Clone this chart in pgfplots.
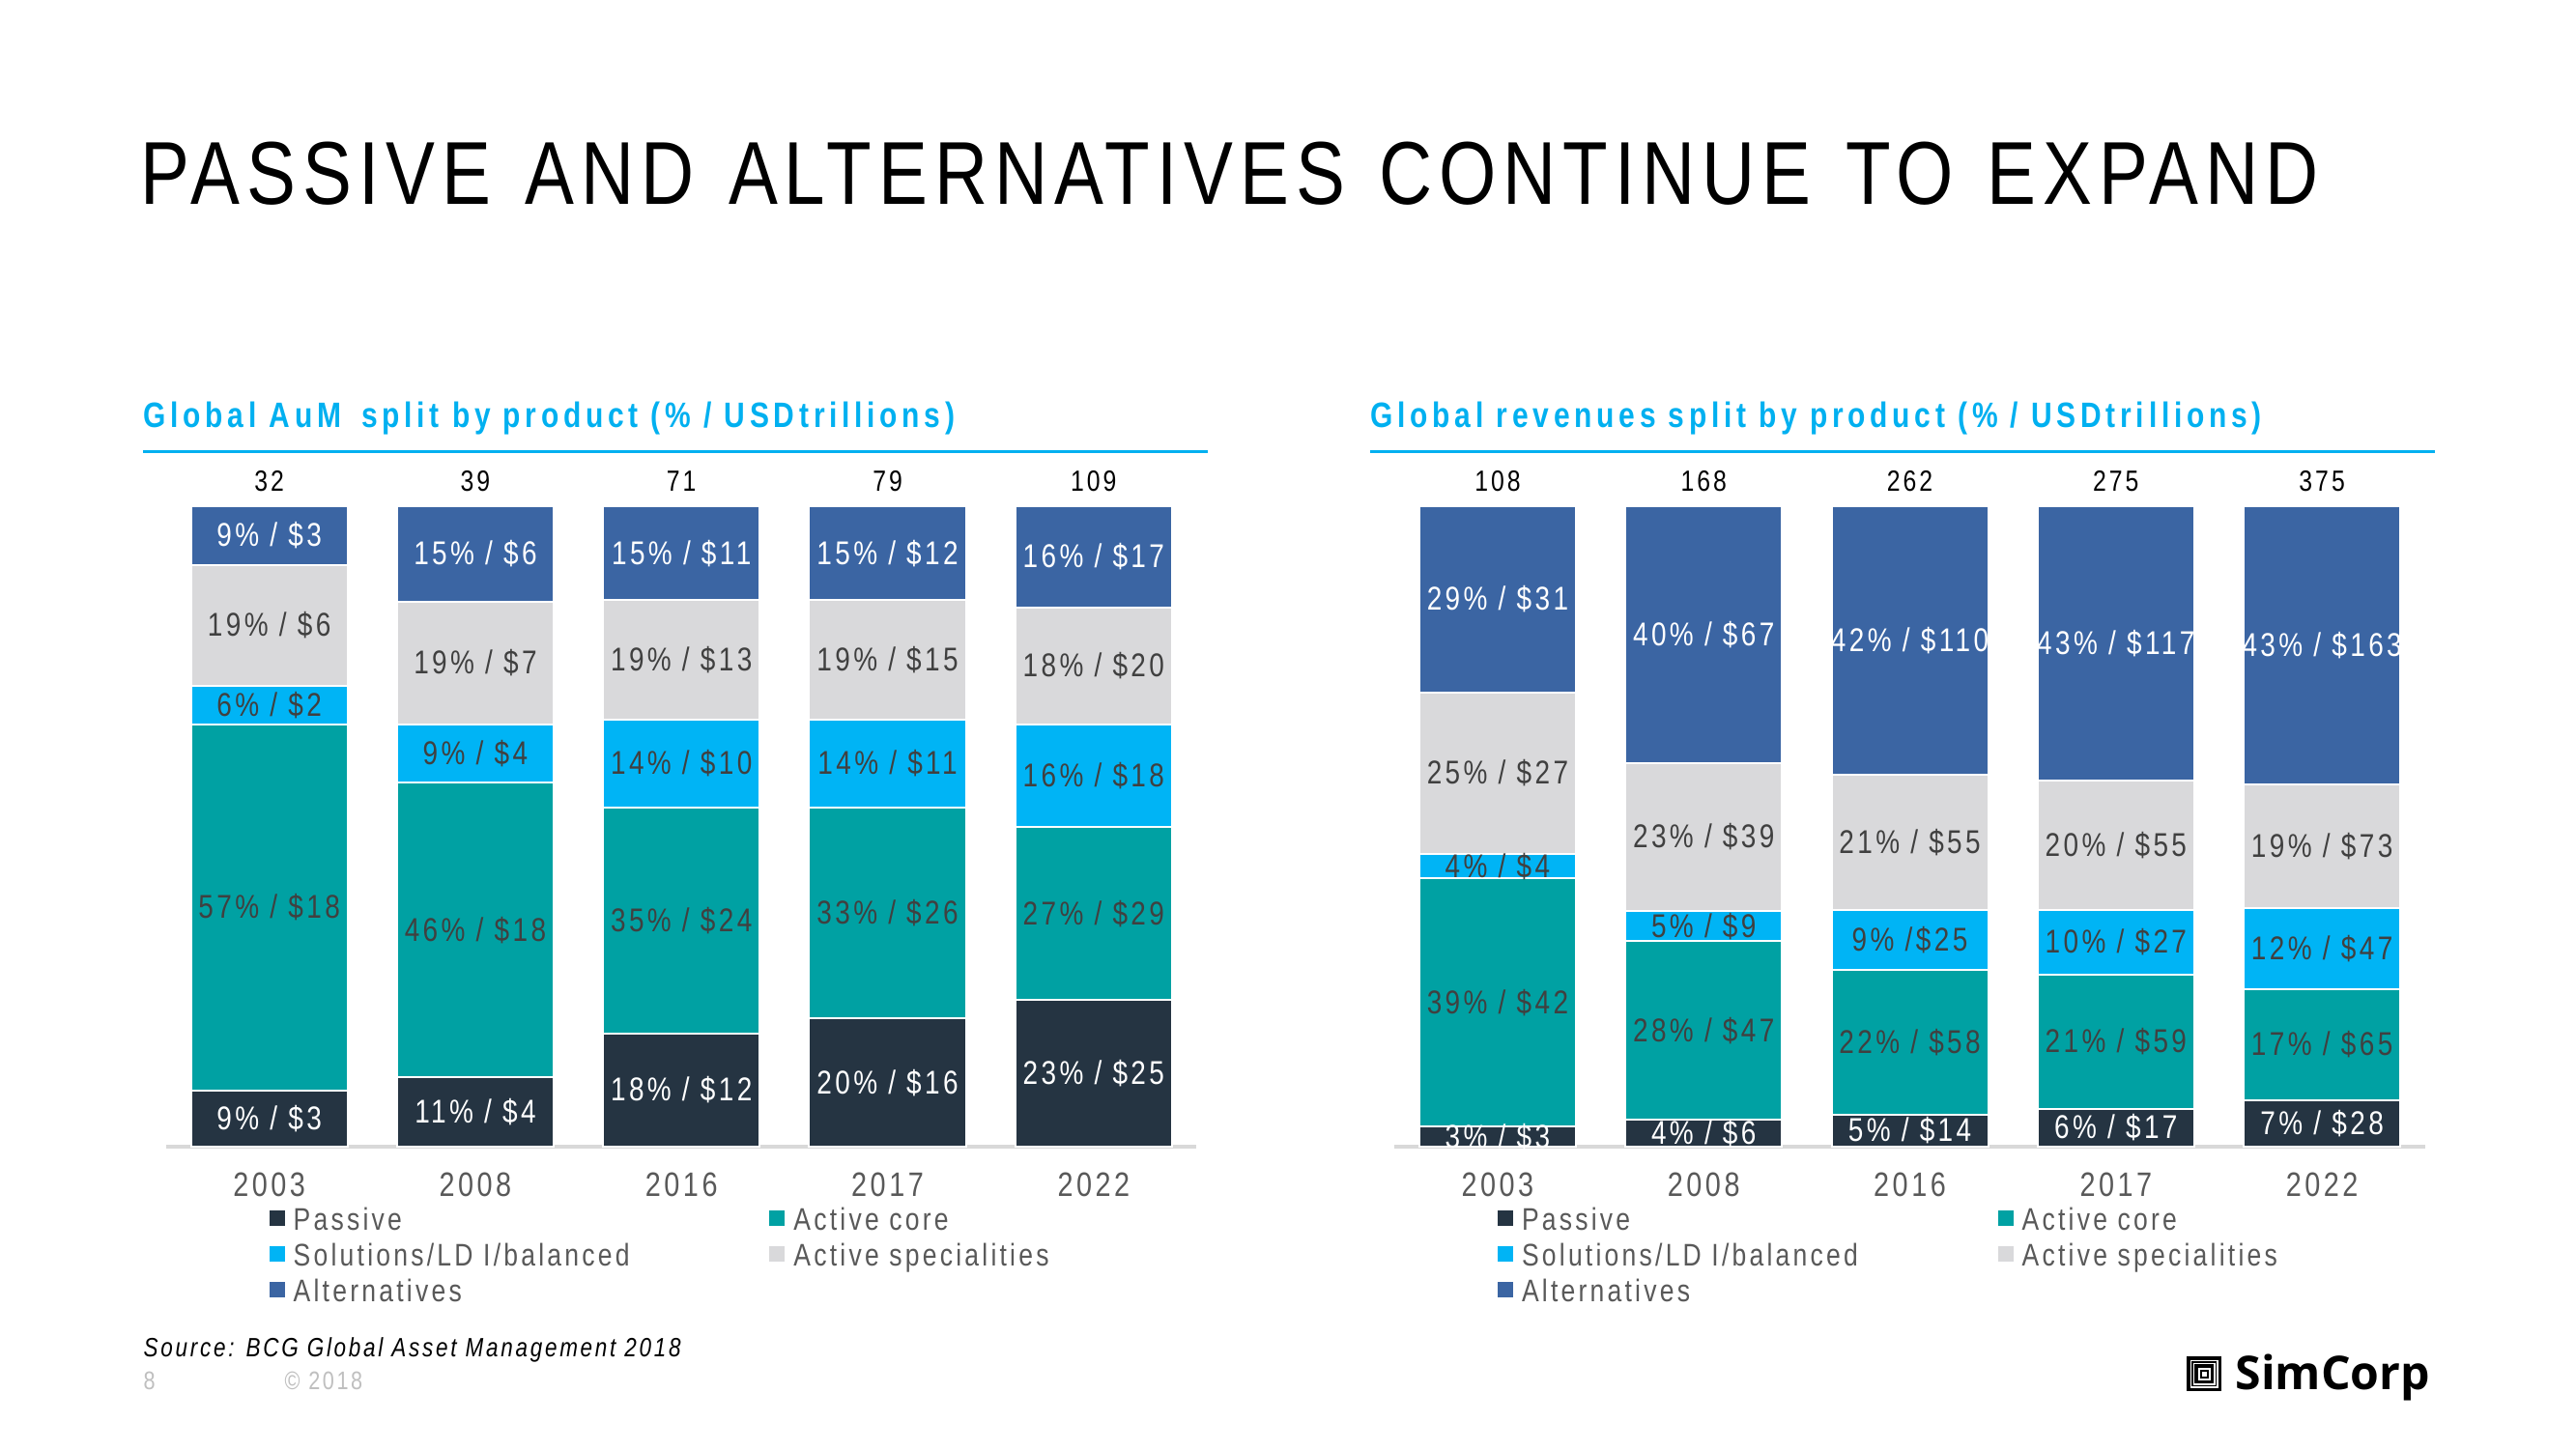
\documentclass[border=0pt]{standalone}
\usepackage{fontspec}
\usepackage{pgfplots}
\pgfplotsset{compat=1.18}
\setmainfont{Liberation Sans}[FakeStretch=0.82, LetterSpace=10]
\newfontfamily\titlefont{Liberation Sans}[FakeStretch=0.825, LetterSpace=7.6, WordSpace=1.25]
\newfontfamily\subfont{Liberation Sans}[FakeStretch=0.82, LetterSpace=13]
\newfontfamily\logofont{Open Sans}

\definecolor{cPas}{RGB}{37,52,66}
\definecolor{cCor}{RGB}{0,161,163}
\definecolor{cSol}{RGB}{0,180,245}
\definecolor{cSpe}{RGB}{217,217,219}
\definecolor{cAlt}{RGB}{59,101,163}
\definecolor{cSub}{RGB}{0,176,240}
\definecolor{cLbl}{RGB}{64,64,64}
\definecolor{cTick}{RGB}{89,89,89}
\definecolor{cBase}{RGB}{217,217,217}
\definecolor{cFoot}{RGB}{191,191,191}

\newcommand{\lblsize}{\fontsize{9.7pt}{11pt}\selectfont}
\newcommand{\totsize}{\fontsize{8.6pt}{10pt}\selectfont}
\newcommand{\yrsize}{\fontsize{10pt}{12pt}\selectfont}
\newcommand{\legsize}{\fontsize{9.2pt}{11pt}\selectfont}

\pgfplotsset{
  stackchart/.style={
    ybar stacked,
    scale only axis,
    width=106.65mm, height=66.3mm,
    bar width=0.76,
    xmin=-0.5, xmax=4.5, ymin=0, ymax=100,
    enlargelimits=false,
    axis x line*=bottom,
    axis y line=none,
    x axis line style={-, draw=cBase, line width=0.34mm},
    xtick={0,1,2,3,4},
    xticklabels={2003,2008,2016,2017,2022},
    major tick length=0pt,
    xticklabel style={font=\yrsize, text=cTick, anchor=north, inner sep=0pt, yshift=-2.6mm},
    clip=false,
    legend columns=2,
    legend cell align=left,
    legend style={draw=none, fill=none, at={(0.0994,-0.0912)}, anchor=north west,
      inner sep=0pt, font=\legsize, text=cTick,
      nodes={inner sep=0pt, text height=2.5mm, text depth=1.2mm},
      /tikz/every odd column/.append style={column sep=0.9mm},
      /tikz/every even column/.append style={column sep=0pt}},
    legend image code/.code={\fill[##1, draw=none] (0mm,-0.2mm) rectangle (1.6mm,1.4mm);},
    point meta=explicit symbolic,
    nodes near coords,
    every node near coord/.style={anchor=center, inner sep=0pt, font=\lblsize, text=cLbl},
  },
  totaxis/.style={
    scale only axis,
    width=106.65mm, height=66.3mm,
    xmin=-0.5, xmax=4.5, ymin=0, ymax=100,
    hide axis, clip=false,
  },
  seg/.style={fill=#1, draw=white, line width=0.2mm},
  whitelbl/.style={every node near coord/.append style={text=white}},
  totals/.style={draw=none, mark=none, nodes near coords, point meta=explicit symbolic,
     every node near coord/.style={anchor=south, inner sep=0pt, font=\totsize, text=black, yshift=1.45mm}},
}

\begin{document}
\begin{tikzpicture}
\fill[white] (0,0) rectangle (266.6mm,150mm);
\useasboundingbox (0,0) rectangle (266.6mm,150mm);

% title
\node[anchor=base west, inner sep=0pt] at (14.5mm,128.8mm)
  {\titlefont\fontsize{26.3pt}{30pt}\selectfont PASSIVE AND ALTERNATIVES CONTINUE TO EXPAND};

% subtitles
\node[anchor=base west, inner sep=0pt, text=cSub] at (14.8mm,105.7mm)
  {\subfont\bfseries\fontsize{10.4pt}{12pt}\selectfont Global AuM\hspace{0.8mm} split by product (\% / USDtrillions)};
\draw[cSub, line width=0.25mm] (14.8mm,103.25mm) -- (124.95mm,103.25mm);
\node[anchor=base west, inner sep=0pt, text=cSub] at (141.8mm,105.7mm)
  {\subfont\bfseries\fontsize{10.4pt}{12pt}\selectfont Global revenues split by product (\% / USDtrillions)};
\draw[cSub, line width=0.25mm] (141.8mm,103.25mm) -- (252.0mm,103.25mm);

% left chart
\begin{axis}[stackchart, at={(17.2mm,31.3mm)}, anchor=south west]
\addplot[seg=cPas, whitelbl] coordinates {(0,8.8)[9\% / \$3] (1,10.8)[11\% / \$4] (2,17.7)[18\% / \$12] (3,20.0)[20\% / \$16] (4,22.9)[23\% / \$25]};
\addplot[seg=cCor] coordinates {(0,57.1)[57\% / \$18] (1,46.1)[46\% / \$18] (2,35.2)[35\% / \$24] (3,32.9)[33\% / \$26] (4,27.0)[27\% / \$29]};
\addplot[seg=cSol] coordinates {(0,6.1)[6\% / \$2] (1,9.0)[9\% / \$4] (2,13.8)[14\% / \$10] (3,13.8)[14\% / \$11] (4,16.0)[16\% / \$18]};
\addplot[seg=cSpe] coordinates {(0,18.8)[19\% / \$6] (1,19.2)[19\% / \$7] (2,18.6)[19\% / \$13] (3,18.6)[19\% / \$15] (4,18.3)[18\% / \$20]};
\addplot[seg=cAlt, whitelbl] coordinates {(0,9.2)[9\% / \$3] (1,14.9)[15\% / \$6] (2,14.7)[15\% / \$11] (3,14.7)[15\% / \$12] (4,15.8)[16\% / \$17]};
\legend{{\makebox[49.27mm][l]{Passive}},Active core,{\makebox[49.27mm][l]{Solutions/LD I/balanced}},Active specialities,Alternatives}
\end{axis}
\begin{axis}[totaxis, at={(17.2mm,31.3mm)}, anchor=south west]
\addplot[totals] coordinates {(0,100)[32] (1,100)[39] (2,100)[71] (3,100)[79] (4,100)[109]};
\end{axis}

% right chart
\begin{axis}[stackchart, at={(144.33mm,31.3mm)}, anchor=south west]
\addplot[seg=cPas, whitelbl] coordinates {(0,3.1)[3\% / \$3] (1,4.2)[4\% / \$6] (2,5.0)[5\% / \$14] (3,5.9)[6\% / \$17] (4,7.3)[7\% / \$28]};
\addplot[seg=cCor] coordinates {(0,38.8)[39\% / \$42] (1,27.9)[28\% / \$47] (2,22.6)[22\% / \$58] (3,21.0)[21\% / \$59] (4,17.3)[17\% / \$65]};
\addplot[seg=cSol] coordinates {(0,3.8)[4\% / \$4] (1,4.7)[5\% / \$9] (2,9.3)[9\% /\$25] (3,10.0)[10\% / \$27] (4,12.6)[12\% / \$47]};
\addplot[seg=cSpe] coordinates {(0,25.2)[25\% / \$27] (1,23.1)[23\% / \$39] (2,21.2)[21\% / \$55] (3,20.3)[20\% / \$55] (4,19.3)[19\% / \$73]};
\addplot[seg=cAlt, whitelbl] coordinates {(0,29.1)[29\% / \$31] (1,40.1)[40\% / \$67] (2,41.9)[42\% / \$110] (3,42.8)[43\% / \$117] (4,43.5)[43\% / \$163]};
\legend{{\makebox[49.27mm][l]{Passive}},Active core,{\makebox[49.27mm][l]{Solutions/LD I/balanced}},Active specialities,Alternatives}
\end{axis}
\begin{axis}[totaxis, at={(144.33mm,31.3mm)}, anchor=south west]
\addplot[totals] coordinates {(0,100)[108] (1,100)[168] (2,100)[262] (3,100)[275] (4,100)[375]};
\end{axis}

% footer
\node[anchor=base west, inner sep=0pt] at (14.8mm,9.6mm)
  {\itshape\fontsize{7.8pt}{9.4pt}\selectfont Source: BCG Global Asset Management 2018};
\node[anchor=base west, inner sep=0pt, text=cFoot] at (14.8mm,6.2mm)
  {\fontsize{7.5pt}{9pt}\selectfont 8};
\node[anchor=base west, inner sep=0pt, text=cFoot] at (29.4mm,6.2mm)
  {\fontsize{7.5pt}{9pt}\selectfont \textcopyright\ 2018};

% logo
\fill[black] (226.3mm,6.0mm) rectangle (229.9mm,9.6mm);
\fill[white] (226.65mm,6.35mm) rectangle (229.55mm,9.25mm);
\fill[black] (226.8mm,6.5mm) rectangle (229.4mm,9.1mm);
\fill[white] (226.95mm,6.65mm) rectangle (229.25mm,8.95mm);
\fill[black] (227.1mm,6.8mm) rectangle (229.1mm,8.8mm);
\fill[white] (227.45mm,7.15mm) rectangle (228.75mm,8.45mm);
\fill[black] (227.65mm,7.35mm) rectangle (228.55mm,8.25mm);
\fill[white] (227.85mm,7.55mm) rectangle (228.35mm,8.05mm);
\node[anchor=base west, inner sep=0pt] at (231.3mm,6.2mm)
  {\logofont\bfseries\fontsize{13.7pt}{15pt}\selectfont SimCorp};
\end{tikzpicture}
\end{document}
